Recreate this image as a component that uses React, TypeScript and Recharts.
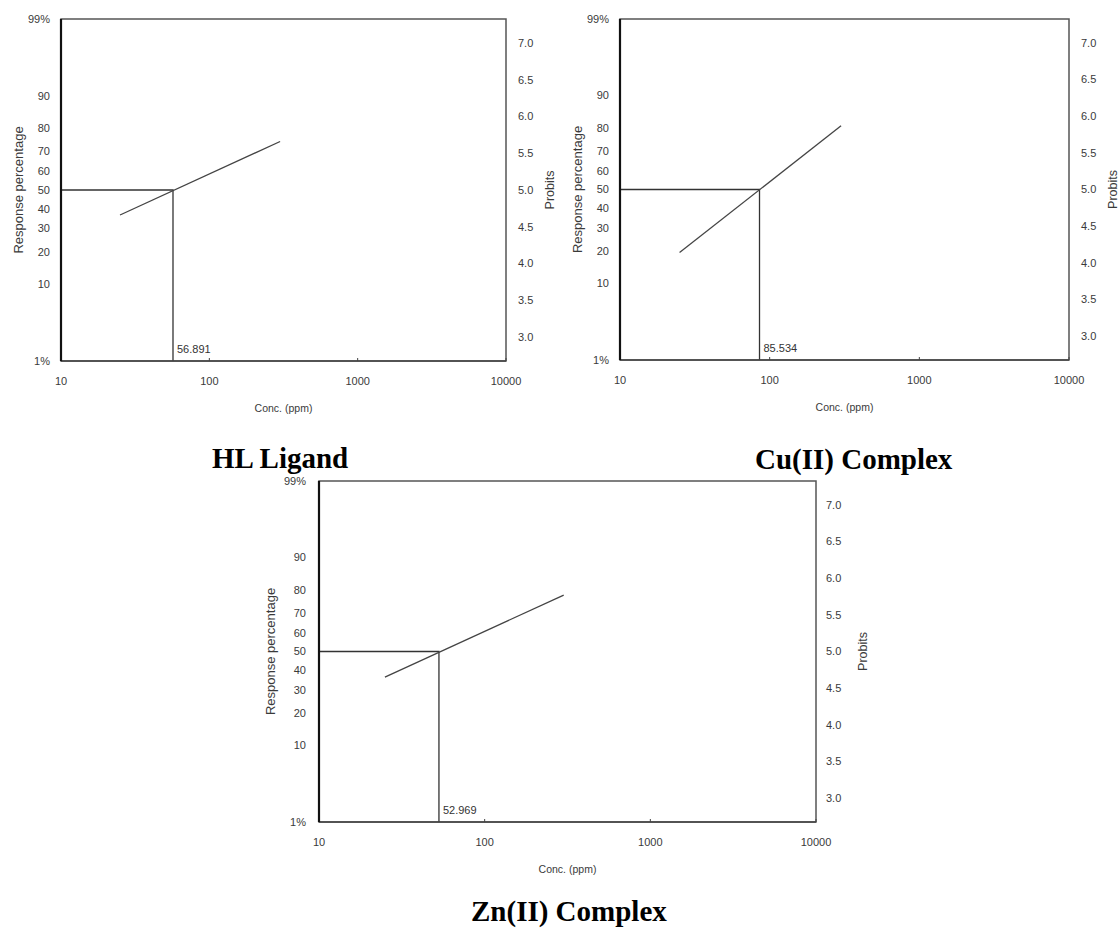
import React from 'react';
import { LineChart, Line, XAxis, YAxis, ReferenceArea, ReferenceDot } from 'recharts';

const X_TICKS = [10, 100, 1000, 10000];
const RESPONSE_LABELS = ['1%', '10', '20', '30', '40', '50', '60', '70', '80', '90', '99%'];
const RESPONSE_PROBITS = [2.674, 3.718, 4.158, 4.476, 4.747, 5.0, 5.253, 5.524, 5.842, 6.282, 7.326];
const PROBIT_TICKS = [3.0, 3.5, 4.0, 4.5, 5.0, 5.5, 6.0, 6.5, 7.0];
const P_MIN = 2.674;
const P_MAX = 7.326;

const HL_CONC = [25, 300];
const HL_PROBIT = [4.66, 5.66];
const HL_LC50 = 56.891;

const CU_CONC = [25, 300];
const CU_PROBIT = [4.14, 5.87];
const CU_LC50 = 85.534;

const ZN_CONC = [25, 300];
const ZN_PROBIT = [4.65, 5.77];
const ZN_LC50 = 52.969;

const SANS = '"Liberation Sans", Arial, sans-serif';
const SERIF = '"Liberation Serif", "Times New Roman", serif';

type PanelProps = {
  left: number;
  top: number;
  width: number;
  height: number;
  margin: { top: number; right: number; bottom: number; left: number };
  conc: number[];
  probit: number[];
  lc50: number;
  respOffset: number;
  probOffset: number;
  leftTickMargin: number;
  rightTickMargin: number;
};

function Panel(p: PanelProps) {
  const fit = p.conc.map((c, i) => ({ x: c, y: p.probit[i] }));
  const guide = [
    { x: 10, y: 5 },
    { x: p.lc50, y: 5 },
    { x: p.lc50, y: P_MIN },
  ];
  const tickStyle = { fontSize: 11, fill: '#3a3a3a', fontFamily: SANS };
  return (
    <div style={{ position: 'absolute', left: p.left, top: p.top }}>
      <LineChart width={p.width} height={p.height} margin={p.margin}>
        <ReferenceArea
          yAxisId="l"
          x1={10}
          x2={10000}
          y1={P_MIN}
          y2={P_MAX}
          fill="none"
          stroke="#555"
          strokeWidth={1.5}
          ifOverflow="visible"
        />
        <XAxis
          dataKey="x"
          type="number"
          scale="log"
          domain={[10, 10000]}
          allowDataOverflow
          ticks={X_TICKS}
          interval={0}
          tick={tickStyle}
          tickSize={-3}
          tickMargin={19}
          tickLine={{ stroke: '#444' }}
          axisLine={{ stroke: '#444', strokeWidth: 1.5 }}
          height={52}
          label={{
            value: 'Conc. (ppm)',
            position: 'insideBottom',
            offset: 1,
            style: { fontSize: 10.5, fill: '#3a3a3a', fontFamily: SANS },
          }}
        />
        <YAxis
          yAxisId="l"
          type="number"
          domain={[P_MIN, P_MAX]}
          allowDataOverflow
          ticks={RESPONSE_PROBITS}
          interval={0}
          tickFormatter={(v: number) => {
            const i = RESPONSE_PROBITS.indexOf(v);
            return i >= 0 ? RESPONSE_LABELS[i] : '';
          }}
          tick={tickStyle}
          tickLine={false}
          tickSize={0}
          tickMargin={p.leftTickMargin}
          axisLine={{ stroke: '#111', strokeWidth: 2.2 }}
          width={50}
          label={{
            value: 'Response percentage',
            angle: -90,
            position: 'insideLeft',
            offset: p.respOffset,
            style: { textAnchor: 'middle', fontSize: 13, fill: '#3a3a3a', fontFamily: SANS },
          }}
        />
        <YAxis
          yAxisId="r"
          orientation="right"
          type="number"
          domain={[P_MIN, P_MAX]}
          allowDataOverflow
          ticks={PROBIT_TICKS}
          interval={0}
          tickFormatter={(v: number) => v.toFixed(1)}
          tick={tickStyle}
          tickLine={false}
          tickSize={0}
          tickMargin={p.rightTickMargin}
          axisLine={false}
          width={50}
          label={{
            value: 'Probits',
            angle: -90,
            position: 'insideRight',
            offset: p.probOffset,
            style: { textAnchor: 'middle', fontSize: 12.5, fill: '#3a3a3a', fontFamily: SANS },
          }}
        />
        <Line
          yAxisId="l"
          data={guide}
          dataKey="y"
          type="linear"
          stroke="#333"
          strokeWidth={1.3}
          dot={false}
          isAnimationActive={false}
        />
        <Line
          yAxisId="l"
          data={fit}
          dataKey="y"
          type="linear"
          stroke="#444"
          strokeWidth={1.3}
          dot={false}
          isAnimationActive={false}
        />
        <ReferenceDot
          yAxisId="l"
          x={p.lc50}
          y={P_MIN}
          r={0.01}
          fill="none"
          stroke="none"
          ifOverflow="visible"
          label={{
            content: (props: any) => {
              const vb = props.viewBox || { x: 0, y: 0 };
              return (
                <text
                  x={vb.x + 4}
                  y={vb.y - 8}
                  fontSize={11}
                  fill="#333"
                  fontFamily={SANS}
                >
                  {p.lc50.toFixed(3)}
                </text>
              );
            },
          }}
        />
      </LineChart>
    </div>
  );
}

const TITLES = ['HL Ligand', 'Cu(II) Complex', 'Zn(II) Complex'];

export default function App() {
  return (
    <div
      style={{
        position: 'absolute',
        left: 0,
        top: 0,
        width: 1120,
        height: 933,
        background: '#fff',
        overflow: 'hidden',
      }}
    >
      <Panel
        left={0}
        top={0}
        width={560}
        height={430}
        margin={{ top: 19, right: 4, bottom: 17, left: 11 }}
        conc={HL_CONC}
        probit={HL_PROBIT}
        lc50={HL_LC50}
        respOffset={7}
        probOffset={6}
        leftTickMargin={11}
        rightTickMargin={12}
      />
      <Panel
        left={560}
        top={0}
        width={560}
        height={430}
        margin={{ top: 19, right: 1, bottom: 18, left: 10 }}
        conc={CU_CONC}
        probit={CU_PROBIT}
        lc50={CU_LC50}
        respOffset={7}
        probOffset={6}
        leftTickMargin={11}
        rightTickMargin={12}
      />
      <Panel
        left={250}
        top={460}
        width={640}
        height={430}
        margin={{ top: 21, right: 24, bottom: 16, left: 19 }}
        conc={ZN_CONC}
        probit={ZN_PROBIT}
        lc50={ZN_LC50}
        respOffset={1}
        probOffset={3}
        leftTickMargin={13}
        rightTickMargin={10}
      />
      <svg
        width={1120}
        height={933}
        style={{ position: 'absolute', left: 0, top: 0, pointerEvents: 'none' }}
      >
        <text x={212} y={468} fontFamily={SERIF} fontWeight="bold" fontSize={29} fill="#000">
          {TITLES[0]}
        </text>
        <text x={755} y={469} fontFamily={SERIF} fontWeight="bold" fontSize={29} fill="#000">
          {TITLES[1]}
        </text>
        <text x={471} y={921} fontFamily={SERIF} fontWeight="bold" fontSize={29} fill="#000">
          {TITLES[2]}
        </text>
      </svg>
    </div>
  );
}
